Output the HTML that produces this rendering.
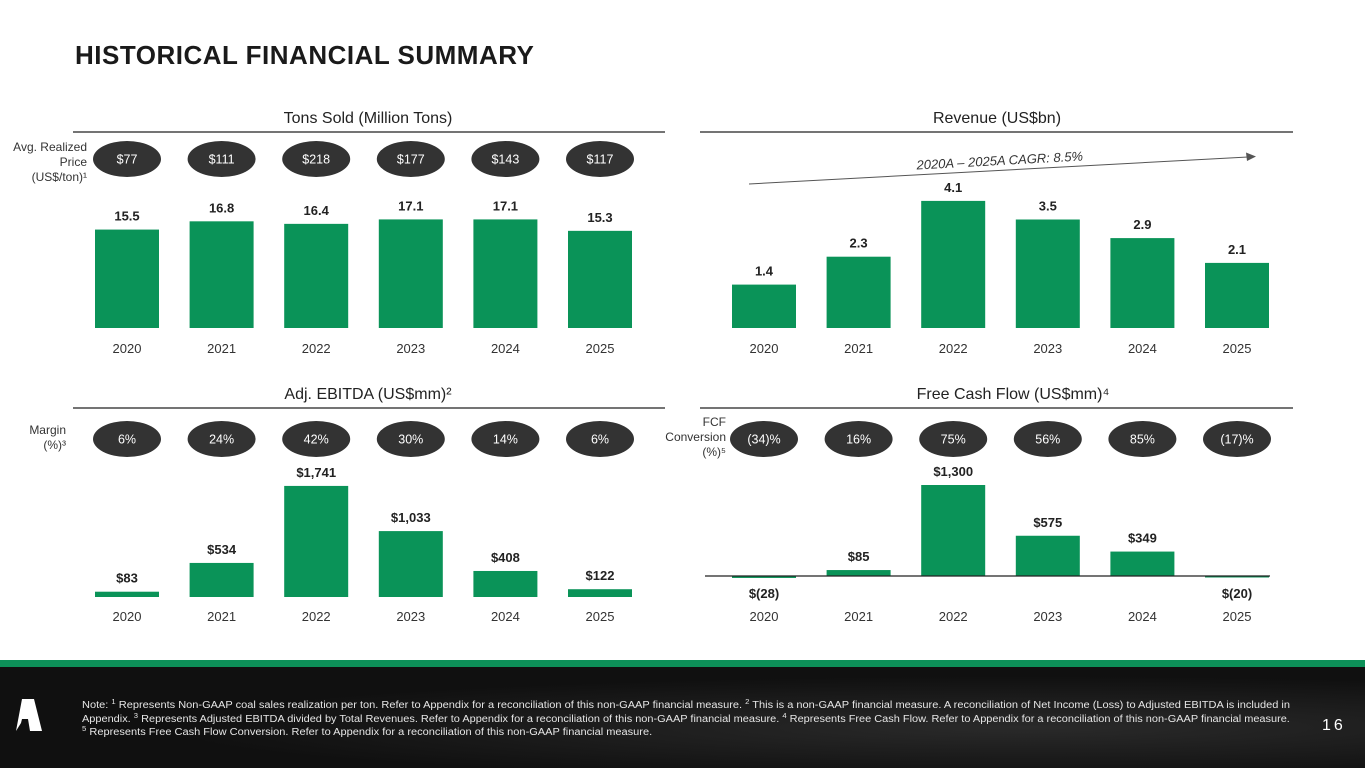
<!DOCTYPE html>
<html><head><meta charset="utf-8"><style>
body{margin:0;width:1365px;height:768px;overflow:hidden;background:#fff;font-family:"Liberation Sans",sans-serif;position:relative}
#title{position:absolute;left:75px;top:40px;font-size:26px;font-weight:bold;color:#1a1a1a;letter-spacing:0.5px}
#footer{position:absolute;left:0;top:660px;width:1365px;height:108px;background:radial-gradient(ellipse at 75% 60%,#2a2a2a,#101010 60%);border-top:7px solid #0d9159;box-sizing:border-box}
.nl{position:absolute;left:82px;font-size:10px;line-height:13px;color:#e6e6e6;white-space:nowrap;transform-origin:0 0}
.nl sup{font-size:7px;line-height:0;vertical-align:4px}
#pg{position:absolute;left:1322px;top:50px;font-size:16px;color:#fff;letter-spacing:3px}
</style></head><body>
<div id="title">HISTORICAL FINANCIAL SUMMARY</div>
<svg id="chart" width="1365" height="660" style="position:absolute;left:0;top:0"></svg>
<div id="footer">
<svg width="40" height="40" style="position:absolute;left:12px;top:30px"><polygon points="10,2 22,2 30,34 18,34 16,22 10,22 9,26 4,34" fill="#fff"/></svg>
<div class="nl" id="n1" style="top:32px">Note: <sup>1</sup> Represents Non-GAAP coal sales realization per ton. Refer to Appendix for a reconciliation of this non-GAAP financial measure. <sup>2</sup> This is a non-GAAP financial measure. A reconciliation of Net Income (Loss) to Adjusted EBITDA is included in</div>
<div class="nl" id="n2" style="top:45.5px">Appendix. <sup>3</sup> Represents Adjusted EBITDA divided by Total Revenues. Refer to Appendix for a reconciliation of this non-GAAP financial measure. <sup>4</sup> Represents Free Cash Flow. Refer to Appendix for a reconciliation of this non-GAAP financial measure.</div>
<div class="nl" id="n3" style="top:59px"><sup>5</sup> Represents Free Cash Flow Conversion. Refer to Appendix for a reconciliation of this non-GAAP financial measure.</div>
<div id="pg">16</div>
</div>
<script>
const years=["2020","2021","2022","2023","2024","2025"];
const tons=[15.5,16.8,16.4,17.1,17.1,15.3];
const tonsLabels=["15.5","16.8","16.4","17.1","17.1","15.3"];
const prices=["$77","$111","$218","$177","$143","$117"];
const revenue=[1.4,2.3,4.1,3.5,2.9,2.1];
const revenueLabels=["1.4","2.3","4.1","3.5","2.9","2.1"];
const ebitda=[83,534,1741,1033,408,122];
const ebitdaLabels=["$83","$534","$1,741","$1,033","$408","$122"];
const margins=["6%","24%","42%","30%","14%","6%"];
const fcf=[-28,85,1300,575,349,-20];
const fcfLabels=["$(28)","$85","$1,300","$575","$349","$(20)"];
const fcfConv=["(34)%","16%","75%","56%","85%","(17)%"];

// fit footnote lines
[['n1',1208],['n2',1208],['n3',0]].forEach(([id,w])=>{const e=document.getElementById(id);
  const s=w?w/e.offsetWidth:1208/document.getElementById('n1').offsetWidth*1.0;
  e.style.transform='scaleX('+Math.min(s,1.2)+')';});
(function(){const e1=document.getElementById('n1');const s=1208/e1.scrollWidth;document.getElementById('n3').style.transform='scaleX('+s+')';})();

const svg=document.getElementById('chart');
const NS='http://www.w3.org/2000/svg';
function mk(tag,attrs,txt){const e=document.createElementNS(NS,tag);for(const k in attrs)e.setAttribute(k,attrs[k]);if(txt!==undefined)e.textContent=txt;svg.appendChild(e);return e;}

function panel(o){
  const t=mk('text',{x:o.cx,y:o.ty,'text-anchor':'middle','font-size':16,fill:'#222'},o.title);
  
  
  const l=mk('line',{x1:o.lx1,x2:o.lx2,y1:o.ly,y2:o.ly,stroke:'#222','stroke-width':1.3});
  
  
  const x=i=>o.x0+i*o.step;
  const y=v=>o.base-v*o.scale;
  o.vals.forEach((v,i)=>{
    const top=Math.min(y(v),o.base),h=Math.max(Math.abs(v*o.scale),1.5);
    const r=mk('rect',{x:x(i)-32,y:top,width:64,height:h,fill:'#0a9358'});
    
    
    const ly=v>=0?y(v)-9:o.base+22;
    const vt=mk('text',{x:x(i),y:ly,'text-anchor':'middle','font-size':13,'font-weight':'bold',fill:'#222'},o.labels[i]);
    
    
    const yt=mk('text',{x:x(i),y:o.yearY,'text-anchor':'middle','font-size':13,fill:'#333'},years[i]);
    
    
    if(o.ovals){
      const el=mk('ellipse',{cx:x(i),cy:o.ovalY,rx:34,ry:18,fill:'#333'});
      
      
      const ot=mk('text',{x:x(i),y:o.ovalY+4.5,'text-anchor':'middle','font-size':12.5,fill:'#fff'},o.ovals[i]);
      
      
    }
  });
  if(o.zero){const z=mk('line',{x1:o.zero[0],x2:o.zero[1],y1:o.base,y2:o.base,stroke:'#222','stroke-width':1.3});
    
    }
}
panel({id:'tons',title:'Tons Sold (Million Tons)',cx:368,ty:123,lx1:73,lx2:665,ly:132,x0:127,step:94.6,base:328,scale:6.35,vals:tons,labels:tonsLabels,yearY:353,ovals:prices,ovalY:159});
panel({id:'revenue',title:'Revenue (US$bn)',cx:997,ty:123,lx1:700,lx2:1293,ly:132,x0:764,step:94.6,base:328,scale:31,vals:revenue,labels:revenueLabels,yearY:353});
panel({id:'ebitda',title:'Adj. EBITDA (US$mm)²',cx:368,ty:399,lx1:73,lx2:665,ly:408,x0:127,step:94.6,base:597,scale:0.0638,vals:ebitda,labels:ebitdaLabels,yearY:621,ovals:margins,ovalY:439});
panel({id:'fcf',title:'Free Cash Flow (US$mm)⁴',cx:1013,ty:399,lx1:700,lx2:1293,ly:408,x0:764,step:94.6,base:576,scale:0.07,vals:fcf,labels:fcfLabels,yearY:621,ovals:fcfConv,ovalY:439,zero:[705,1270]});

function side(lines,x,y0,name){lines.forEach((s,i)=>{const t=mk('text',{x:x,y:y0+i*15,'text-anchor':'end','font-size':12,fill:'#333'},s);
  
  });}
side(['Avg. Realized','Price','(US$/ton)¹'],87,151,'price-side-label');
side(['Margin','(%)³'],66,434,'margin-side-label');
side(['FCF','Conversion','(%)⁵'],726,426,'fcf-conversion-side-label');

const a=mk('line',{x1:749,y1:184,x2:1248,y2:157,stroke:'#555','stroke-width':1});


const ah=mk('polygon',{points:'1256,156.5 1246,152.5 1247,161',fill:'#555'});


const ct=mk('text',{x:1000,y:165,'text-anchor':'middle','font-size':13,'font-style':'italic',fill:'#333',transform:'rotate(-3.1 1000 165)'},'2020A – 2025A CAGR: 8.5%');


</script>
</body></html>
